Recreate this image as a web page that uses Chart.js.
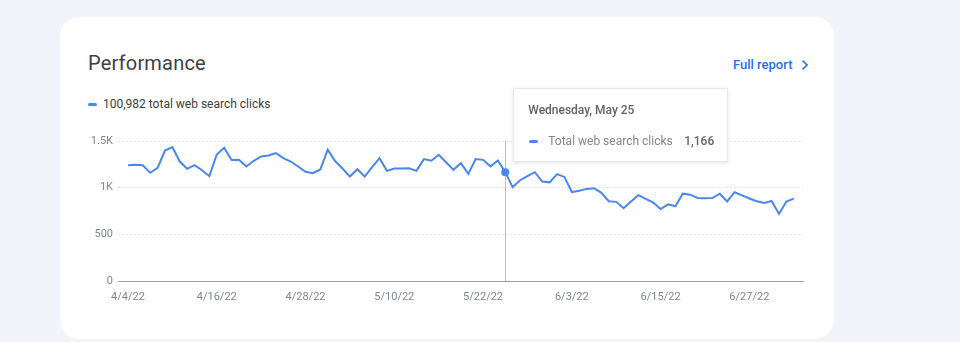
<!DOCTYPE html>
<html>
<head>
<meta charset="utf-8">
<script src="https://cdn.jsdelivr.net/npm/chart.js@4.4.1/dist/chart.umd.min.js"></script>
<style>
  html, body { margin: 0; padding: 0; }
  body { width: 960px; height: 342px; background: #f1f4f8; position: relative; overflow: hidden; font-family: Roboto, "Noto Sans", Arial, sans-serif; }
  #card { position: absolute; left: 60px; top: 17px; width: 774px; height: 322px; background: #fff; border-radius: 20px; }
  #title { position: absolute; left: 88px; top: 51px; font-size: 20px; color: #3c4043; letter-spacing: 0.2px; }
  #full { position: absolute; left: 733px; top: 57px; font-size: 13px; font-weight: 500; color: #1a73e8; }
  #full svg { position: absolute; left: 68px; top: 2px; }
  #legend { position: absolute; left: 88px; top: 97px; font-size: 12px; color: #3c4043; }
  #legend .dash { position: absolute; left: 0; top: 6px; width: 9px; height: 3px; border-radius: 2px; background: #4a86ec; }
  #legend span.t { position: absolute; left: 15px; top: 0; white-space: nowrap; }
  #wrap { position: absolute; left: 60px; top: 120px; width: 760px; height: 190px; }
  #tip { position: absolute; background: #fff; border: 1px solid #e6e8eb; box-shadow: 0 1px 3px rgba(60,64,67,0.15); width: 213px; height: 72px; font-size: 12px; }
  #tip .tt { position: absolute; left: 14px; top: 14px; font-weight: 500; color: #5f6368; white-space: nowrap; }
  #tip .dash { position: absolute; left: 15px; top: 51px; width: 9px; height: 3px; border-radius: 2px; background: #4a86ec; }
  #tip .lbl { position: absolute; left: 34px; top: 45px; color: #80868b; white-space: nowrap; }
  #tip .val { position: absolute; right: 13px; top: 45px; color: #5f6368; font-weight: 500; }
</style>
</head>
<body>
<div id="card"></div>
<div id="title">Performance</div>
<div id="full">Full report<svg width="8" height="12" viewBox="0 0 8 12"><path d="M1.5 1.5 L6 6 L1.5 10.5" fill="none" stroke="#1a73e8" stroke-width="1.6"/></svg></div>
<div id="legend"><div class="dash"></div><span class="t">100,982 total web search clicks</span></div>
<div id="wrap"><canvas id="c" width="760" height="190"></canvas></div>
<div id="tip"><div class="tt" id="tipTitle"></div><div class="dash"></div><div class="lbl">Total web search clicks</div><div class="val" id="tipVal"></div></div>
<script>
const dates = [
  '4/4/22','4/5/22','4/6/22','4/7/22','4/8/22','4/9/22','4/10/22','4/11/22','4/12/22','4/13/22','4/14/22','4/15/22','4/16/22','4/17/22','4/18/22','4/19/22','4/20/22','4/21/22','4/22/22','4/23/22','4/24/22','4/25/22','4/26/22','4/27/22','4/28/22','4/29/22','4/30/22',
  '5/1/22','5/2/22','5/3/22','5/4/22','5/5/22','5/6/22','5/7/22','5/8/22','5/9/22','5/10/22','5/11/22','5/12/22','5/13/22','5/14/22','5/15/22','5/16/22','5/17/22','5/18/22','5/19/22','5/20/22','5/21/22','5/22/22','5/23/22','5/24/22','5/25/22','5/26/22','5/27/22','5/28/22','5/29/22','5/30/22','5/31/22',
  '6/1/22','6/2/22','6/3/22','6/4/22','6/5/22','6/6/22','6/7/22','6/8/22','6/9/22','6/10/22','6/11/22','6/12/22','6/13/22','6/14/22','6/15/22','6/16/22','6/17/22','6/18/22','6/19/22','6/20/22','6/21/22','6/22/22','6/23/22','6/24/22','6/25/22','6/26/22','6/27/22','6/28/22','6/29/22','6/30/22',
  '7/1/22','7/2/22','7/3/22'
];
const clicks = [
  1241,1245,1240,1159,1212,1398,1434,1280,1202,1241,1187,1123,1355,1427,1296,1298,1227,1288,1334,1345,
  1370,1316,1280,1227,1170,1155,1195,1406,1285,1205,1119,1198,1119,1220,1316,1180,1205,1205,1208,1180,
  1306,1288,1352,1273,1191,1263,1148,1306,1298,1227,1291,1166,1005,1080,1123,1166,1066,1057,1145,1115,
  953,966,987,994,944,855,848,780,851,920,880,840,771,821,801,936,925,890,887,889,
  935,853,951,918,884,855,837,857,719,851,882
];
const xTickIndex = [0,12,24,36,48,60,72,84];
const yTickValues = [0,500,1000,1500];
const yTickLabels = ['0','500','1K','1.5K'];
const highlightIndex = 51;
const highlightTitle = 'Wednesday, May 25';

const blue = '#4a86ec';
const points = clicks.map((v, i) => ({ x: i, y: v }));

const vline = {
  id: 'vline',
  beforeDatasetsDraw(chart) {
    const { ctx, chartArea, scales } = chart;
    const x = Math.round(scales.x.getPixelForValue(highlightIndex)) + 0.5;
    ctx.save();
    ctx.strokeStyle = '#bdc1c6';
    ctx.lineWidth = 1;
    ctx.beginPath();
    ctx.moveTo(x, chartArea.top);
    ctx.lineTo(x, chartArea.bottom);
    ctx.stroke();
    ctx.restore();
  }
};

const chart = new Chart(document.getElementById('c'), {
  type: 'line',
  data: {
    datasets: [{
      data: points,
      borderColor: blue,
      backgroundColor: blue,
      borderWidth: 2,
      tension: 0,
      pointRadius: ctx => ctx.dataIndex === highlightIndex ? 4 : 0,
      pointBorderWidth: 0,
      pointBackgroundColor: blue
    }]
  },
  options: {
    responsive: false,
    animation: false,
    layout: { padding: { top: 21, right: 17, left: 0, bottom: 0 } },
    plugins: { legend: { display: false }, tooltip: { enabled: false } },
    events: [],
    scales: {
      x: {
        type: 'linear',
        min: -1.35,
        max: 91.25,
        afterBuildTicks: axis => { axis.ticks = xTickIndex.map(v => ({ value: v })); },
        afterFit: axis => { axis.height = 29; },
        grid: { display: false, drawTicks: false },
        border: { display: true, color: '#9aa0a6', width: 1 },
        ticks: {
          autoSkip: false, maxRotation: 0, padding: 10,
          color: '#80868b', font: { family: 'Roboto', size: 11 },
          callback: v => dates[v]
        }
      },
      y: {
        min: 0,
        max: 1500,
        afterBuildTicks: axis => { axis.ticks = yTickValues.map(v => ({ value: v })); },
        afterFit: axis => { axis.width = 58; },
        grid: {
          drawTicks: false,
          color: ctx => ctx.tick && ctx.tick.value === 0 ? 'rgba(0,0,0,0)' : '#e3e5e8',
          lineWidth: 1
        },
        border: { display: false, dash: [2, 2] },
        ticks: {
          padding: 5,
          color: '#80868b', font: { family: 'Roboto', size: 11 },
          callback: v => yTickLabels[yTickValues.indexOf(v)]
        }
      }
    }
  },
  plugins: [vline]
});

// tooltip (HTML, positioned from the chart's own scales)
const px = chart.scales.x.getPixelForValue(highlightIndex);
const tip = document.getElementById('tip');
document.getElementById('tipTitle').textContent = highlightTitle;
document.getElementById('tipVal').textContent = clicks[highlightIndex].toLocaleString('en-US');
tip.style.left = (60 + px + 8) + 'px';
tip.style.top = '88px';
</script>
</body>
</html>
